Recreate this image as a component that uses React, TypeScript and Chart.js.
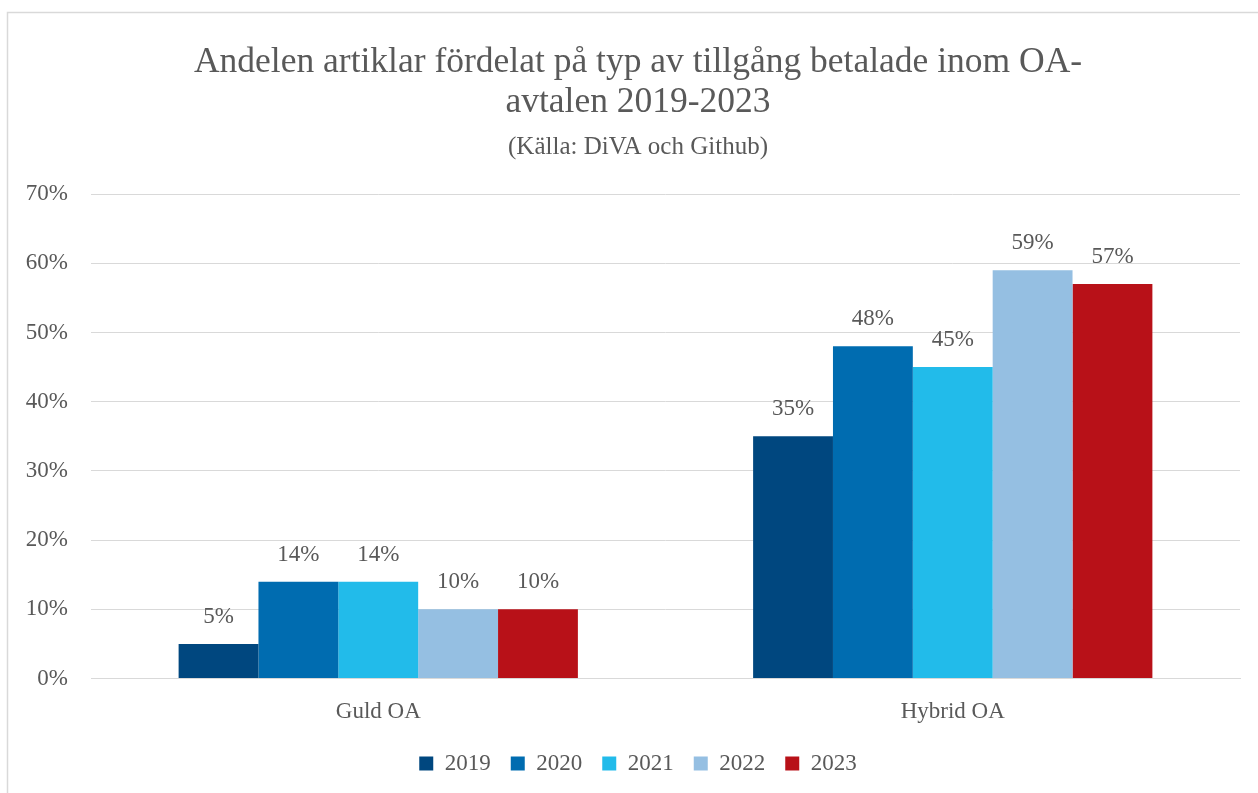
import React, { useEffect, useRef } from "react";
import { Chart, registerables } from "chart.js";

Chart.register(...registerables);

const categories = ["Guld OA", "Hybrid OA"];
const years = ["2019", "2020", "2021", "2022", "2023"];
const values2019 = [5, 35];
const values2020 = [14, 48];
const values2021 = [14, 45];
const values2022 = [10, 59];
const values2023 = [10, 57];
const seriesValues = [values2019, values2020, values2021, values2022, values2023];
const seriesColors = ["#00477F", "#006CB0", "#22BBEA", "#95BFE2", "#B81118"];
const titleLines = [
  "Andelen artiklar fördelat på typ av tillgång betalade inom OA-",
  "avtalen 2019-2023",
];
const subtitleText = "(Källa: DiVA och Github)";
const yTicks = [0, 10, 20, 30, 40, 50, 60, 70];

const FONT = "'Liberation Serif', 'DejaVu Serif', serif";
const TEXT = "#595959";
const GRID = "#D9D9D9";

const frame = {
  id: "frame",
  beforeDraw(chart: any) {
    const ctx = chart.ctx;
    ctx.save();
    ctx.fillStyle = "#FFFFFF";
    ctx.fillRect(0, 0, chart.width, chart.height);
    ctx.strokeStyle = GRID;
    ctx.lineWidth = 1.5;
    ctx.strokeRect(7.5, 12.5, chart.width + 20, chart.height + 20);
    ctx.restore();
  },
};

const valueLabels = {
  id: "valueLabels",
  afterDatasetsDraw(chart: any) {
    const ctx = chart.ctx;
    ctx.save();
    ctx.font = `23px ${FONT}`;
    ctx.fillStyle = TEXT;
    ctx.textAlign = "center";
    ctx.textBaseline = "middle";
    chart.data.datasets.forEach((ds: any, i: number) => {
      const meta = chart.getDatasetMeta(i);
      meta.data.forEach((bar: any, j: number) => {
        ctx.fillText(`${ds.data[j]}%`, bar.x, bar.y - 27);
      });
    });
    ctx.restore();
  },
};

export default function App() {
  const ref = useRef<HTMLCanvasElement>(null);
  useEffect(() => {
    if (!ref.current) return;
    const chart = new Chart(ref.current, {
      type: "bar",
      data: {
        labels: categories,
        datasets: years.map((y, i) => ({
          label: y,
          data: seriesValues[i],
          backgroundColor: seriesColors[i],
          borderWidth: 0,
          categoryPercentage: 0.695,
          barPercentage: 1,
        })),
      },
      options: {
        animation: false,
        responsive: false,
        layout: { padding: { top: 43, left: 8, right: -10, bottom: 8 } },
        scales: {
          x: {
            afterFit: (scale: any) => {
              scale.height = 53.4;
            },
            grid: { display: false, drawTicks: false },
            border: { display: true, color: GRID, width: 1 },
            ticks: { color: TEXT, font: { family: FONT, size: 23 }, padding: 20 },
          },
          y: {
            min: 0,
            max: 70,
            afterFit: (scale: any) => {
              scale.width = 83;
            },
            afterBuildTicks: (scale: any) => {
              scale.ticks = yTicks.map((v) => ({ value: v }));
            },
            grid: { color: GRID, lineWidth: 1, drawTicks: false },
            border: { display: false },
            ticks: {
              color: TEXT,
              font: { family: FONT, size: 23 },
              padding: 23,
              callback: (v: any) => `${v}%`,
            },
          },
          yRight: {
            type: "linear",
            position: "right",
            display: true,
            afterFit: (scale: any) => {
              scale.width = 28;
            },
            grid: { display: false, drawTicks: false },
            border: { display: false },
            ticks: { display: false },
          },
        },
        plugins: {
          title: {
            display: true,
            text: titleLines,
            color: TEXT,
            font: { family: FONT, size: 35.5, weight: "normal", lineHeight: 40 / 35.5 },
            padding: { top: 0, bottom: 9.6 },
          },
          subtitle: {
            display: true,
            text: subtitleText,
            color: TEXT,
            font: { family: FONT, size: 25, weight: "normal", lineHeight: 1.2 },
            padding: { top: 0, bottom: 31.4 },
          },
          legend: {
            position: "bottom",
            labels: {
              color: TEXT,
              font: { family: FONT, size: 23 },
              boxWidth: 14,
              boxHeight: 14,
              padding: 20,
            },
          },
          tooltip: { enabled: false },
        },
      },
      plugins: [frame, valueLabels],
    });
    return () => chart.destroy();
  }, []);
  return (
    <div style={{ position: "fixed", left: 0, top: 0, width: 1258, height: 793 }}>
      <canvas ref={ref} width={1258} height={793} style={{ display: "block" }} />
    </div>
  );
}
